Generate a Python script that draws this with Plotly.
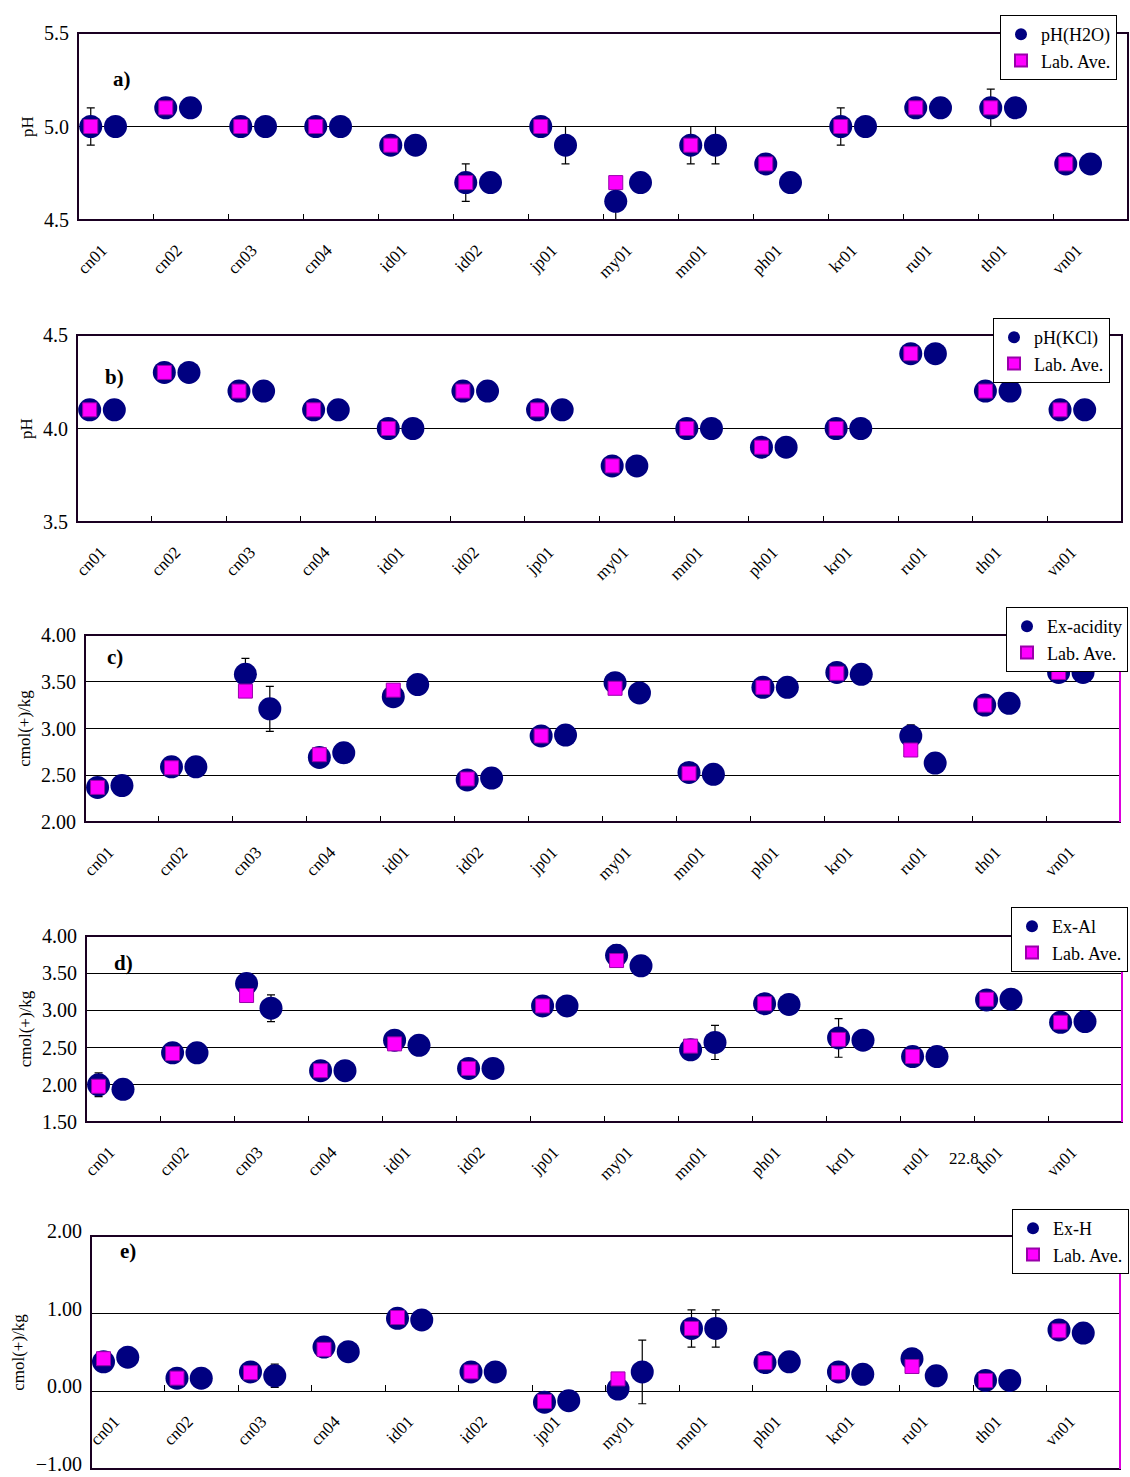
import plotly.graph_objects as go

categories = ["cn01", "cn02", "cn03", "cn04", "id01", "id02", "jp01",
              "my01", "mn01", "ph01", "kr01", "ru01", "th01", "vn01"]

# a) pH(H2O)
a_left = [5.0, 5.1, 5.0, 5.0, 4.9, 4.7, 5.0, 4.6, 4.9, 4.8, 5.0, 5.1, 5.1, 4.8]
a_right = [5.0, 5.1, 5.0, 5.0, 4.9, 4.7, 4.9, 4.7, 4.9, 4.7, 5.0, 5.1, 5.1, 4.8]
a_lab = [5.0, 5.1, 5.0, 5.0, 4.9, 4.7, 5.0, 4.7, 4.9, 4.8, 5.0, 5.1, 5.1, 4.8]
a_left_err = [0.1, 0, 0, 0, 0, 0.1, 0, 0.1, 0.1, 0, 0.1, 0, 0.1, 0]
a_right_err = [0, 0, 0, 0, 0, 0, 0.1, 0, 0.1, 0, 0, 0, 0, 0]

# b) pH(KCl)
b_left = [4.1, 4.3, 4.2, 4.1, 4.0, 4.2, 4.1, 3.8, 4.0, 3.9, 4.0, 4.4, 4.2, 4.1]
b_right = [4.1, 4.3, 4.2, 4.1, 4.0, 4.2, 4.1, 3.8, 4.0, 3.9, 4.0, 4.4, 4.2, 4.1]
b_lab = [4.1, 4.3, 4.2, 4.1, 4.0, 4.2, 4.1, 3.8, 4.0, 3.9, 4.0, 4.4, 4.2, 4.1]
b_left_err = [0] * 14
b_right_err = [0] * 14

# c) Ex-acidity
c_left = [2.37, 2.59, 3.58, 2.69, 3.34, 2.45, 2.92, 3.49, 2.53, 3.44, 3.60, 2.92, 3.25, 3.60]
c_right = [2.39, 2.59, 3.21, 2.74, 3.47, 2.47, 2.93, 3.38, 2.51, 3.44, 3.58, 2.63, 3.27, 3.60]
c_lab = [2.37, 2.58, 3.40, 2.72, 3.41, 2.46, 2.92, 3.43, 2.52, 3.44, 3.59, 2.77, 3.25, 3.60]
c_left_err = [0, 0, 0.17, 0, 0, 0, 0, 0.10, 0, 0, 0, 0.12, 0, 0]
c_right_err = [0, 0, 0.24, 0, 0, 0, 0, 0, 0, 0, 0, 0, 0, 0]

# d) Ex-Al
d_left = [2.00, 2.43, 3.36, 2.19, 2.60, 2.22, 3.06, 3.74, 2.47, 3.09, 2.63, 2.38, 3.14, 2.84]
d_right = [1.94, 2.43, 3.03, 2.19, 2.53, 2.22, 3.06, 3.60, 2.57, 3.08, 2.60, 2.38, 3.15, 2.85]
d_lab = [1.98, 2.42, 3.20, 2.19, 2.55, 2.22, 3.06, 3.67, 2.52, 3.09, 2.61, 2.38, 3.15, 2.84]
d_left_err = [0.16, 0, 0, 0, 0, 0, 0, 0.14, 0, 0, 0.26, 0, 0, 0]
d_right_err = [0, 0, 0.18, 0, 0, 0, 0, 0, 0.23, 0, 0, 0, 0, 0]

# e) Ex-H
e_left = [0.38, 0.17, 0.25, 0.57, 0.94, 0.25, -0.14, 0.03, 0.81, 0.37, 0.25, 0.42, 0.14, 0.79]
e_right = [0.44, 0.17, 0.20, 0.51, 0.92, 0.25, -0.12, 0.25, 0.81, 0.38, 0.22, 0.20, 0.14, 0.75]
e_lab = [0.42, 0.17, 0.24, 0.54, 0.95, 0.25, -0.13, 0.16, 0.81, 0.37, 0.24, 0.32, 0.14, 0.78]
e_left_err = [0, 0, 0, 0, 0.12, 0, 0, 0, 0.24, 0, 0, 0, 0, 0]
e_right_err = [0, 0, 0.15, 0.12, 0, 0, 0, 0.41, 0.24, 0, 0, 0, 0, 0]

series_names = ["pH(H2O)", "pH(KCl)", "Ex-acidity", "Ex-Al", "Ex-H"]
panel_letters = ["a)", "b)", "c)", "d)", "e)"]
y_titles = ["pH", "pH", "cmol(+)/kg", "cmol(+)/kg", "cmol(+)/kg"]
y_ranges = [[4.5, 5.5], [3.5, 4.5], [2.0, 4.0], [1.5, 4.0], [-1.0, 2.0]]
y_dticks = [0.5, 0.5, 0.5, 0.5, 1.0]
y_formats = [".1f", ".1f", ".2f", ".2f", ".2f"]
x_cross = [None, None, None, None, 0.0]
y_label_shift = [0, 0, 0, 0, -5]

panels = [
    (a_left, a_right, a_lab, a_left_err, a_right_err),
    (b_left, b_right, b_lab, b_left_err, b_right_err),
    (c_left, c_right, c_lab, c_left_err, c_right_err),
    (d_left, d_right, d_lab, d_left_err, d_right_err),
    (e_left, e_right, e_lab, e_left_err, e_right_err),
]

# layout geometry (pixels)
W, H = 1130, 1477
frames = [(78, 1128, 33, 220), (77, 1122, 335, 522), (85, 1120, 635, 822),
          (86, 1122, 936, 1122), (91, 1120, 1236, 1469)]
legend_pos = [(1117, 15), (1110, 318), (1128, 607), (1128, 907), (1129, 1209)]  # right edge, top
letter_pos = [(111, 65), (103, 363), (105, 657), (112, 963), (118, 1265)]
right_magenta = [False, False, True, True, True]

L_OFF, R_OFF, LBL_OFF = 0.17, 0.50, 0.32
FONT = "Liberation Serif, Times New Roman, serif"
NAVY = "#000080"
MAGENTA = "#ff00ff"
FRAME = "#1a0022"

fig = go.Figure()
layout = dict(width=W, height=H, margin=dict(l=0, r=0, t=0, b=0, autoexpand=False),
              paper_bgcolor="white", plot_bgcolor="white",
              font=dict(family=FONT, color="black"), showlegend=True)
shapes, annotations = [], []

for k, (left, right, lab, lerr, rerr) in enumerate(panels):
    n = k + 1
    xa = "x" if n == 1 else f"x{n}"
    ya = "y" if n == 1 else f"y{n}"
    lg = "legend" if n == 1 else f"legend{n}"
    xs, ys, es = [], [], []
    for i in range(len(categories)):
        xs += [i + L_OFF, i + R_OFF]
        ys += [left[i], right[i]]
        es += [lerr[i], rerr[i]]
    fig.add_trace(go.Scatter(
        x=xs, y=ys, mode="markers", name=series_names[k], xaxis=xa, yaxis=ya,
        legend=lg, cliponaxis=False,
        marker=dict(symbol="circle", size=23, color=NAVY, line=dict(width=0)),
        error_y=dict(type="data", array=es, visible=True, color="black",
                     thickness=1.2, width=4)))
    fig.add_trace(go.Scatter(
        x=[i + L_OFF for i in range(len(categories))], y=lab, mode="markers",
        name="Lab. Ave.", xaxis=xa, yaxis=ya, legend=lg, cliponaxis=False,
        marker=dict(symbol="square", size=14, color=MAGENTA,
                    line=dict(width=1, color="#9900aa"))))

    l, r, t, b = frames[k]
    yd = [1 - b / H, 1 - t / H]
    xaxis = dict(domain=[l / W, r / W], range=[0, len(categories)], anchor=ya,
                 showgrid=False, zeroline=False, showline=False, automargin=False,
                 tickmode="array", tickvals=[i + LBL_OFF for i in range(len(categories))],
                 ticktext=categories, tickangle=-45, ticks="",
                 tickfont=dict(family=FONT, size=17, color="black"),
                 ticklabelstandoff=16, ticklabeloverflow="allow",
                 minor=dict(tickmode="array", tickvals=list(range(1, len(categories))),
                            ticks="inside", ticklen=6, tickwidth=1, tickcolor="black",
                            showgrid=False))
    if x_cross[k] is not None:
        y0, y1 = y_ranges[k]
        frac = (x_cross[k] - y0) / (y1 - y0)
        xaxis["anchor"] = "free"
        xaxis["position"] = yd[0] + (yd[1] - yd[0]) * frac
    yaxis = dict(domain=yd, range=y_ranges[k], anchor=xa, dtick=y_dticks[k],
                 tick0=y_ranges[k][0], tickformat=y_formats[k], automargin=False,
                 showgrid=True, gridcolor="black", gridwidth=1, zeroline=False,
                 showline=False, ticks="", ticklabelstandoff=8,
                 ticklabelshift=y_label_shift[k],
                 ticklabeloverflow="allow",
                 tickfont=dict(family=FONT, size=20, color="black"),
                 title=dict(text=y_titles[k], standoff=6,
                            font=dict(family=FONT, size=17, color="black")))
    layout["xaxis" if n == 1 else f"xaxis{n}"] = xaxis
    layout["yaxis" if n == 1 else f"yaxis{n}"] = yaxis

    shapes.append(dict(type="rect", xref=f"{xa} domain", yref=f"{ya} domain",
                       x0=0, x1=1, y0=0, y1=1, line=dict(color=FRAME, width=2),
                       layer="above"))
    if right_magenta[k]:
        shapes.append(dict(type="line", xref=f"{xa} domain", yref=f"{ya} domain",
                           x0=1, x1=1, y0=0, y1=1, line=dict(color="#dd00dd", width=2),
                           layer="above"))

    lx, ly = legend_pos[k]
    layout[lg] = dict(x=lx / W, y=1 - ly / H, xanchor="right", yanchor="top",
                      bgcolor="white", bordercolor="black", borderwidth=1,
                      font=dict(family=FONT, size=18, color="black"),
                      itemsizing="constant", tracegroupgap=0)

    px, py = letter_pos[k]
    annotations.append(dict(text=f"<b>{panel_letters[k]}</b>", xref="paper", yref="paper",
                            x=px / W, y=1 - py / H, showarrow=False,
                            font=dict(family=FONT, size=21, color="black")))

annotations.append(dict(text="22.8", xref="paper", yref="paper", x=981 / W,
                        y=1 - 1170 / H, showarrow=False,
                        font=dict(family=FONT, size=17, color="black")))

layout["shapes"] = shapes
layout["annotations"] = annotations
fig.update_layout(**layout)
fig.write_html("out.html")
